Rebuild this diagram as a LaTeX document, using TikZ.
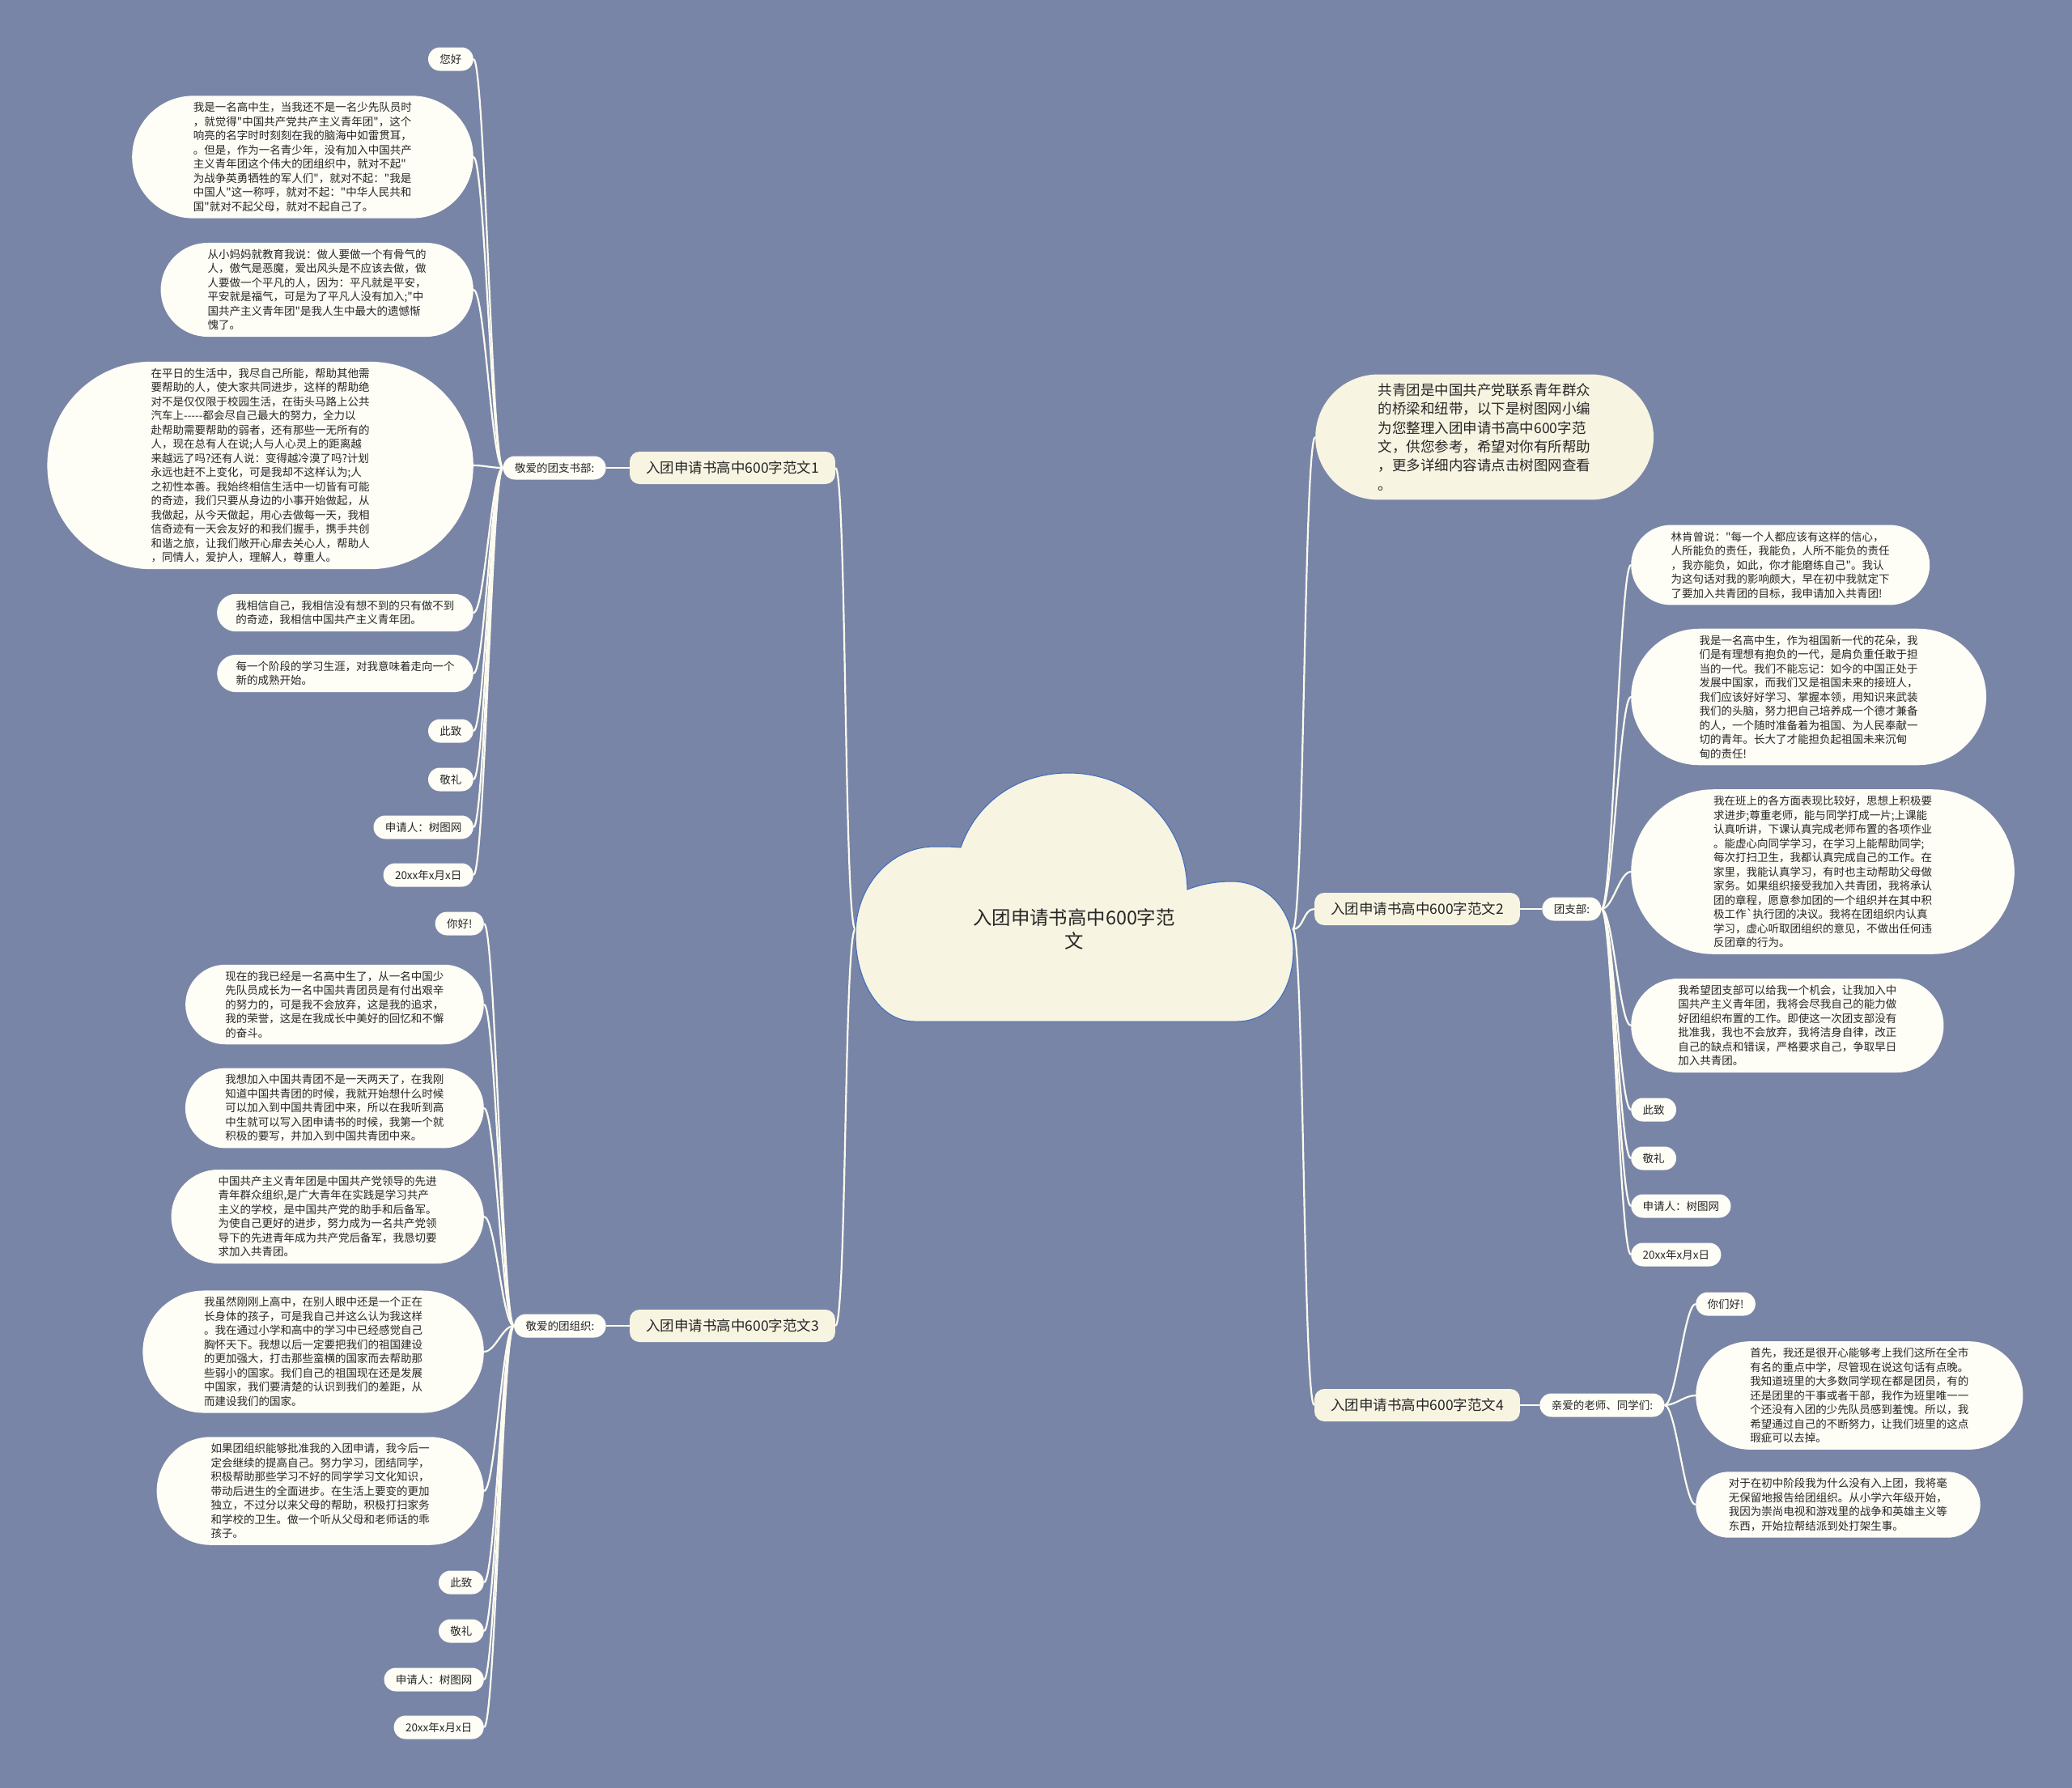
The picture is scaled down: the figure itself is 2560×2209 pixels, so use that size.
\documentclass[tikz,border=0pt]{standalone}
\usepackage{fontspec}
\setmainfont{Noto Sans CJK SC}[Ligatures=TeXOff]
\usepackage{tikz}
\usetikzlibrary{positioning,shapes.misc,backgrounds}
\usepackage{xcolor}
\definecolor{bgcol}{HTML}{7885A6}
\definecolor{leafcol}{HTML}{FEFDF6}
\definecolor{topiccol}{HTML}{F8F4E2}
\definecolor{linkcol}{HTML}{FDFBF0}
\definecolor{edgecol}{HTML}{3B6CC0}
\definecolor{txtcol}{HTML}{262626}
\tikzset{
  leaf/.style={rounded rectangle, fill=leafcol, text=txtcol, align=left,
    font=\fontsize{13.5}{17.5}\selectfont, inner xsep=#1, inner ysep=8pt, minimum height=29pt},
  leaf/.default=13pt,
  topic/.style={rectangle, rounded corners=12pt, fill=topiccol, text=txtcol,
    font=\fontsize{17.5}{23.4}\selectfont, inner xsep=20pt, minimum height=40pt},
  intro/.style={rounded rectangle, fill=topiccol, text=txtcol, align=left,
    font=\fontsize{17.5}{23.4}\selectfont, inner xsep=40pt, inner ysep=11pt},
  root/.style={align=center, text=txtcol, font=\fontsize{23.4}{29}\selectfont,
    minimum width=540pt, inner sep=0pt},
  link/.style={draw=linkcol, line width=2.2pt},
}

\begin{document}
\begin{tikzpicture}[x=1pt,y=-1pt]
  \useasboundingbox (0,0) rectangle (2560,2209);
  % CENTRE: cloud with the title
  \filldraw[fill=topiccol, draw=edgecol, line width=1pt] (1187,1047)
    .. controls (1207,990) and (1258,955) .. (1320,955)
    .. controls (1400,955) and (1465,1015) .. (1467,1099)
    .. controls (1485,1092) and (1503,1089) .. (1522,1089)
    .. controls (1565,1089) and (1598,1125) .. (1598,1172)
    .. controls (1598,1225) and (1570,1262) .. (1528,1262)
    -- (1130,1262)
    .. controls (1085,1262) and (1057,1210) .. (1057,1155)
    .. controls (1057,1095) and (1100,1046) .. (1155,1046)
    .. controls (1167,1046) and (1177,1046) .. (1187,1047) -- cycle;
  \node[root] (root) at (1327,1148) {入团申请书高中600字范\\文};

  % TOPICS: the four essays and the intro
  \node[topic] (f1) at (905,578) {入团申请书高中600字范文1};
  \node[topic] (f3) at (905,1638) {入团申请书高中600字范文3};
  \node[topic] (f2) at (1751,1123) {入团申请书高中600字范文2};
  \node[topic] (f4) at (1751,1736) {入团申请书高中600字范文4};
  \node[intro, anchor=west] (intro) at (1625,540) {共青团是中国共产党联系青年群众\\的桥梁和纽带，以下是树图网小编\\为您整理入团申请书高中600字范\\文，供您参考，希望对你有所帮助\\，更多详细内容请点击树图网查看\\。};

  % SALUTATIONS next to each topic
  \node[leaf, left=29pt of f1] (s1) {敬爱的团支书部:};
  \node[leaf, left=29pt of f3] (s3) {敬爱的团组织:};
  \node[leaf, right=27pt of f2] (s2) {团支部:};
  \node[leaf, right=24pt of f4] (s4) {亲爱的老师、同学们:};

  % ESSAY 1 (left, top)
  \node[leaf, anchor=east] (n1a) at (585,73) {您好};
  \node[leaf=34pt, anchor=east] (n1b) at (585,194) {我是一名高中生，当我还不是一名少先队员时\\，就觉得"中国共产党共产主义青年团"，这个\\响亮的名字时时刻刻在我的脑海中如雷贯耳，\\。但是，作为一名青少年，没有加入中国共产\\主义青年团这个伟大的团组织中，就对不起"\\为战争英勇牺牲的军人们"，就对不起："我是\\中国人"这一称呼，就对不起："中华人民共和\\国"就对不起父母，就对不起自己了。};
  \node[leaf=29.5pt, anchor=east] (n1c) at (585,358) {从小妈妈就教育我说：做人要做一个有骨气的\\人，傲气是恶魔，爱出风头是不应该去做，做\\人要做一个平凡的人，因为：平凡就是平安，\\平安就是福气，可是为了平凡人没有加入;"中\\国共产主义青年团"是我人生中最大的遗憾惭\\愧了。};
  \node[leaf=44.6pt, anchor=east] (n1d) at (585,575) {在平日的生活中，我尽自己所能，帮助其他需\\要帮助的人，使大家共同进步，这样的帮助绝\\对不是仅仅限于校园生活，在街头马路上公共\\汽车上-----都会尽自己最大的努力，全力以\\赴帮助需要帮助的弱者，还有那些一无所有的\\人，现在总有人在说;人与人心灵上的距离越\\来越远了吗?还有人说：变得越冷漠了吗?计划\\永远也赶不上变化，可是我却不这样认为;人\\之初性本善。我始终相信生活中一切皆有可能\\的奇迹，我们只要从身边的小事开始做起，从\\我做起，从今天做起，用心去做每一天，我相\\信奇迹有一天会友好的和我们握手，携手共创\\和谐之旅，让我们敞开心扉去关心人，帮助人\\，同情人，爱护人，理解人，尊重人。};
  \node[leaf=17.7pt, anchor=east] (n1e) at (585,757) {我相信自己，我相信没有想不到的只有做不到\\的奇迹，我相信中国共产主义青年团。};
  \node[leaf=17.7pt, anchor=east] (n1f) at (585,832) {每一个阶段的学习生涯，对我意味着走向一个\\新的成熟开始。};
  \node[leaf, anchor=east] (n1g) at (585,903) {此致};
  \node[leaf, anchor=east] (n1h) at (585,963) {敬礼};
  \node[leaf, anchor=east] (n1i) at (585,1022) {申请人：树图网};
  \node[leaf, anchor=east] (n1j) at (585,1081) {20xx年x月x日};

  % ESSAY 3 (left, bottom)
  \node[leaf, anchor=east] (n3a) at (598,1141) {你好!};
  \node[leaf=27pt, anchor=east] (n3b) at (598,1241) {现在的我已经是一名高中生了，从一名中国少\\先队员成长为一名中国共青团员是有付出艰辛\\的努力的，可是我不会放弃，这是我的追求，\\我的荣誉，这是在我成长中美好的回忆和不懈\\的奋斗。};
  \node[leaf=27pt, anchor=east] (n3c) at (598,1369) {我想加入中国共青团不是一天两天了，在我刚\\知道中国共青团的时候，我就开始想什么时候\\可以加入到中国共青团中来，所以在我听到高\\中生就可以写入团申请书的时候，我第一个就\\积极的要写，并加入到中国共青团中来。};
  \node[leaf=29.5pt, anchor=east] (n3d) at (598,1503) {中国共产主义青年团是中国共产党领导的先进\\青年群众组织,是广大青年在实践是学习共产\\主义的学校，是中国共产党的助手和后备军。\\为使自己更好的进步，努力成为一名共产党领\\导下的先进青年成为共产党后备军，我恳切要\\求加入共青团。};
  \node[leaf=34pt, anchor=east] (n3e) at (598,1670) {我虽然刚刚上高中，在别人眼中还是一个正在\\长身体的孩子，可是我自己并这么认为我这样\\。我在通过小学和高中的学习中已经感觉自己\\胸怀天下。我想以后一定要把我们的祖国建设\\的更加强大，打击那些蛮横的国家而去帮助那\\些弱小的国家。我们自己的祖国现在还是发展\\中国家，我们要清楚的认识到我们的差距，从\\而建设我们的国家。};
  \node[leaf=32pt, anchor=east] (n3f) at (598,1842) {如果团组织能够批准我的入团申请，我今后一\\定会继续的提高自己。努力学习，团结同学，\\积极帮助那些学习不好的同学学习文化知识，\\带动后进生的全面进步。在生活上要变的更加\\独立，不过分以来父母的帮助，积极打扫家务\\和学校的卫生。做一个听从父母和老师话的乖\\孩子。};
  \node[leaf, anchor=east] (n3g) at (598,1955) {此致};
  \node[leaf, anchor=east] (n3h) at (598,2015) {敬礼};
  \node[leaf, anchor=east] (n3i) at (598,2075) {申请人：树图网};
  \node[leaf, anchor=east] (n3j) at (598,2134) {20xx年x月x日};

  % ESSAY 2 (right, middle)
  \node[leaf=27pt, anchor=west] (n2a) at (2015,698) {林肯曾说："每一个人都应该有这样的信心，\\人所能负的责任，我能负，人所不能负的责任\\，我亦能负，如此，你才能磨练自己"。我认\\为这句话对我的影响颇大，早在初中我就定下\\了要加入共青团的目标，我申请加入共青团!};
  \node[leaf=36pt, anchor=west] (n2b) at (2015,861) {我是一名高中生，作为祖国新一代的花朵，我\\们是有理想有抱负的一代，是肩负重任敢于担\\当的一代。我们不能忘记：如今的中国正处于\\发展中国家，而我们又是祖国未来的接班人，\\我们应该好好学习、掌握本领，用知识来武装\\我们的头脑，努力把自己培养成一个德才兼备\\的人，一个随时准备着为祖国、为人民奉献一\\切的青年。长大了才能担负起祖国未来沉甸\\甸的责任!};
  \node[leaf=39.6pt, anchor=west] (n2c) at (2015,1077) {我在班上的各方面表现比较好，思想上积极要\\求进步;尊重老师，能与同学打成一片;上课能\\认真听讲，下课认真完成老师布置的各项作业\\。能虚心向同学学习，在学习上能帮助同学;\\每次打扫卫生，我都认真完成自己的工作。在\\家里，我能认真学习，有时也主动帮助父母做\\家务。如果组织接受我加入共青团，我将承认\\团的章程，愿意参加团的一个组织并在其中积\\极工作`执行团的决议。我将在团组织内认真\\学习，虚心听取团组织的意见，不做出任何违\\反团章的行为。};
  \node[leaf=29.5pt, anchor=west] (n2d) at (2015,1267) {我希望团支部可以给我一个机会，让我加入中\\国共产主义青年团，我将会尽我自己的能力做\\好团组织布置的工作。即使这一次团支部没有\\批准我，我也不会放弃，我将洁身自律，改正\\自己的缺点和错误，严格要求自己，争取早日\\加入共青团。};
  \node[leaf, anchor=west] (n2e) at (2015,1371) {此致};
  \node[leaf, anchor=west] (n2f) at (2015,1431) {敬礼};
  \node[leaf, anchor=west] (n2g) at (2015,1490) {申请人：树图网};
  \node[leaf, anchor=west] (n2h) at (2015,1550) {20xx年x月x日};

  % ESSAY 4 (right, bottom)
  \node[leaf, anchor=west] (n4a) at (2095,1611) {你们好!};
  \node[leaf=32pt, anchor=west] (n4b) at (2095,1724) {首先，我还是很开心能够考上我们这所在全市\\有名的重点中学，尽管现在说这句话有点晚。\\我知道班里的大多数同学现在都是团员，有的\\还是团里的干事或者干部，我作为班里唯一一\\个还没有入团的少先队员感到羞愧。所以，我\\希望通过自己的不断努力，让我们班里的这点\\瑕疵可以去掉。};
  \node[leaf=24.3pt, anchor=west] (n4c) at (2095,1859) {对于在初中阶段我为什么没有入上团，我将毫\\无保留地报告给团组织。从小学六年级开始，\\我因为崇尚电视和游戏里的战争和英雄主义等\\东西，开始拉帮结派到处打架生事。};

  % CONNECTORS (behind everything)
  \begin{scope}[on background layer]
    \fill[bgcol] (0,0) rectangle (2560,2209);
    \draw[link] (root.west) .. controls +(-14,0) and +(14,0) .. (f1.east);
    \draw[link] (root.west) .. controls +(-14,0) and +(14,0) .. (f3.east);
    \draw[link] (root.east) .. controls +(14,0) and +(-14,0) .. (intro.west);
    \draw[link] (root.east) .. controls +(14,0) and +(-14,0) .. (f2.west);
    \draw[link] (root.east) .. controls +(14,0) and +(-14,0) .. (f4.west);
    \draw[link] (f1.west) -- (s1.east);
    \draw[link] (f3.west) -- (s3.east);
    \draw[link] (f2.east) -- (s2.west);
    \draw[link] (f4.east) -- (s4.west);
    % essay 1
    \draw[link] (s1.west) .. controls +(-14,0) and +(14,0) .. (n1a.east);
    \draw[link] (s1.west) .. controls +(-14,0) and +(14,0) .. (n1b.east);
    \draw[link] (s1.west) .. controls +(-14,0) and +(14,0) .. (n1c.east);
    \draw[link] (s1.west) .. controls +(-14,0) and +(14,0) .. (n1d.east);
    \draw[link] (s1.west) .. controls +(-14,0) and +(14,0) .. (n1e.east);
    \draw[link] (s1.west) .. controls +(-14,0) and +(14,0) .. (n1f.east);
    \draw[link] (s1.west) .. controls +(-14,0) and +(14,0) .. (n1g.east);
    \draw[link] (s1.west) .. controls +(-14,0) and +(14,0) .. (n1h.east);
    \draw[link] (s1.west) .. controls +(-14,0) and +(14,0) .. (n1i.east);
    \draw[link] (s1.west) .. controls +(-14,0) and +(14,0) .. (n1j.east);
    % essay 3
    \draw[link] (s3.west) .. controls +(-14,0) and +(14,0) .. (n3a.east);
    \draw[link] (s3.west) .. controls +(-14,0) and +(14,0) .. (n3b.east);
    \draw[link] (s3.west) .. controls +(-14,0) and +(14,0) .. (n3c.east);
    \draw[link] (s3.west) .. controls +(-14,0) and +(14,0) .. (n3d.east);
    \draw[link] (s3.west) .. controls +(-14,0) and +(14,0) .. (n3e.east);
    \draw[link] (s3.west) .. controls +(-14,0) and +(14,0) .. (n3f.east);
    \draw[link] (s3.west) .. controls +(-14,0) and +(14,0) .. (n3g.east);
    \draw[link] (s3.west) .. controls +(-14,0) and +(14,0) .. (n3h.east);
    \draw[link] (s3.west) .. controls +(-14,0) and +(14,0) .. (n3i.east);
    \draw[link] (s3.west) .. controls +(-14,0) and +(14,0) .. (n3j.east);
    % essay 2
    \draw[link] (s2.east) .. controls +(14,0) and +(-14,0) .. (n2a.west);
    \draw[link] (s2.east) .. controls +(14,0) and +(-14,0) .. (n2b.west);
    \draw[link] (s2.east) .. controls +(14,0) and +(-14,0) .. (n2c.west);
    \draw[link] (s2.east) .. controls +(14,0) and +(-14,0) .. (n2d.west);
    \draw[link] (s2.east) .. controls +(14,0) and +(-14,0) .. (n2e.west);
    \draw[link] (s2.east) .. controls +(14,0) and +(-14,0) .. (n2f.west);
    \draw[link] (s2.east) .. controls +(14,0) and +(-14,0) .. (n2g.west);
    \draw[link] (s2.east) .. controls +(14,0) and +(-14,0) .. (n2h.west);
    % essay 4
    \draw[link] (s4.east) .. controls +(14,0) and +(-14,0) .. (n4a.west);
    \draw[link] (s4.east) .. controls +(14,0) and +(-14,0) .. (n4b.west);
    \draw[link] (s4.east) .. controls +(14,0) and +(-14,0) .. (n4c.west);
  \end{scope}
\end{tikzpicture}
\end{document}
